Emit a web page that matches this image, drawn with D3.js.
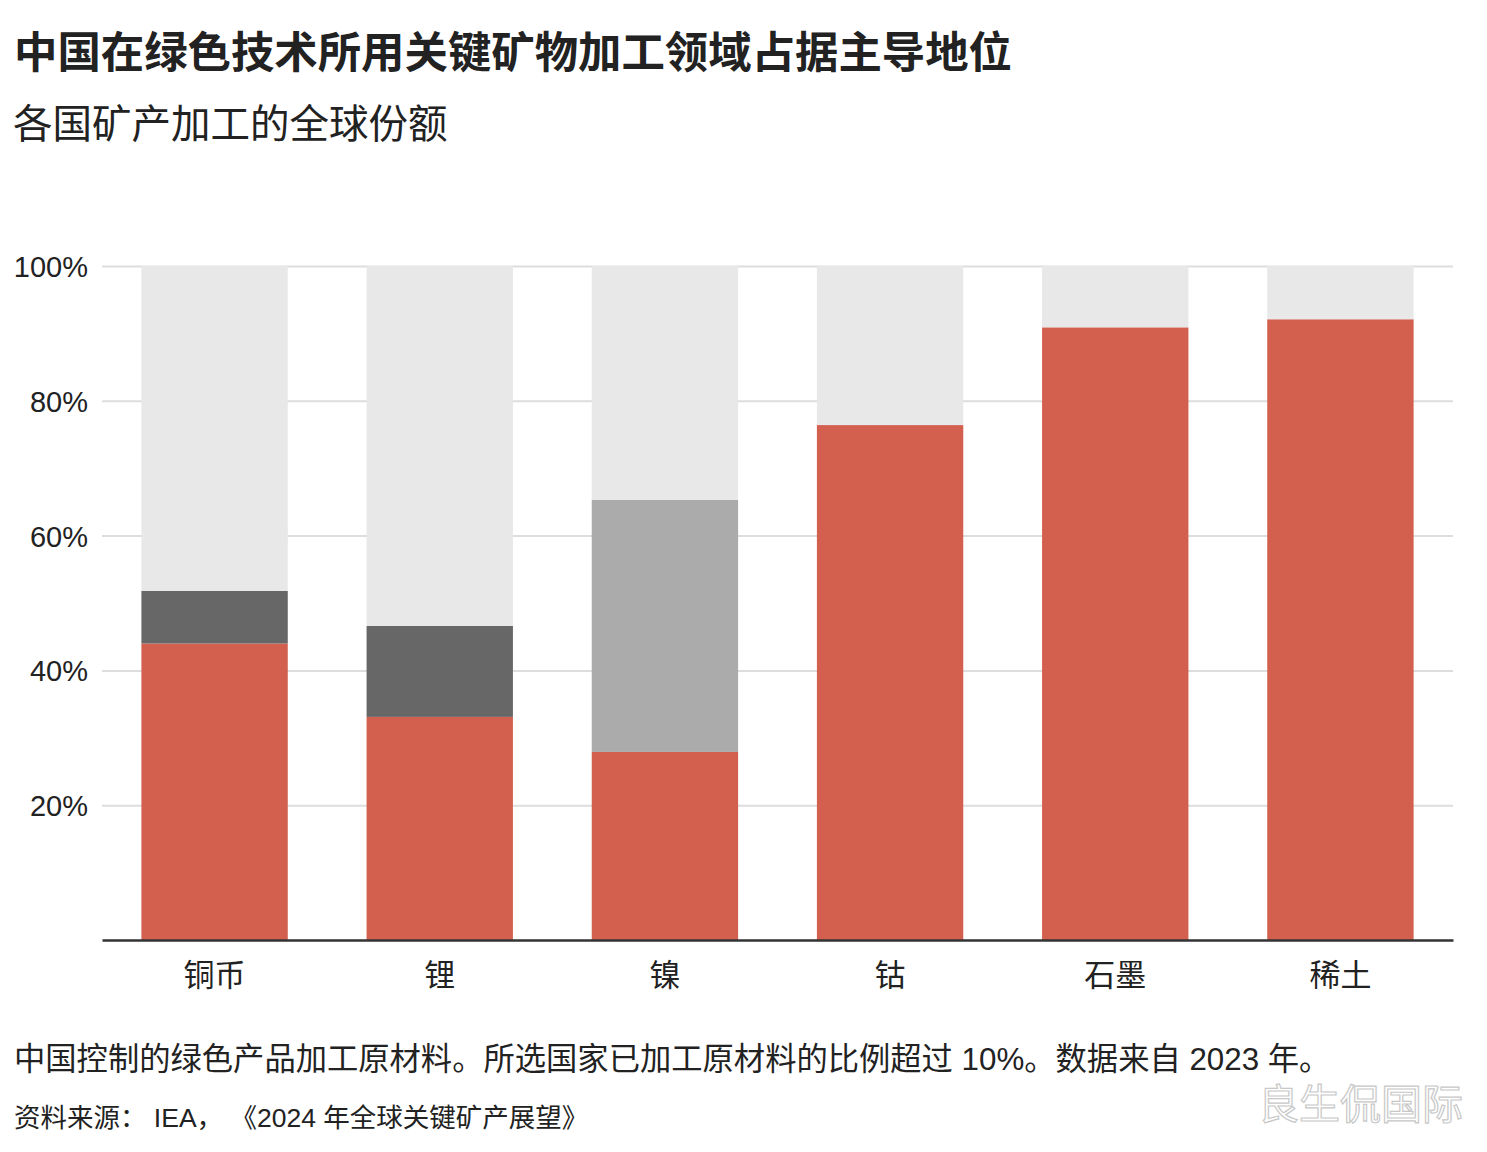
<!DOCTYPE html>
<html>
<head>
<meta charset="utf-8">
<script src="https://cdn.jsdelivr.net/npm/d3@7"></script>
<style>
  body { margin: 0; background: #fff; }
  text { font-family: "Liberation Sans", "Noto Sans CJK SC", sans-serif; }
</style>
</head>
<body>
<div id="chart"></div>
<script>
'use strict';

// data (percent of global processing)
var minerals = ["铜币", "锂", "镍", "钴", "石墨", "稀土"];
var chinaShare = [44, 33.1, 27.9, 76.4, 90.9, 92.1];
var darkShare = [7.8, 13.5, 0, 0, 0, 0];
var lightShare = [0, 0, 37.4, 0, 0, 0];
var yTicks = [20, 40, 60, 80, 100];

var colors = {china: "#d35f4f", dark: "#676767", light: "#ababab", rest: "#e8e8e8"};

var W = 1487, H = 1152;
var margin = {top: 266, right: 34, bottom: 212, left: 102},
    width = W - margin.left - margin.right,
    height = H - margin.top - margin.bottom;

var svg = d3.select("#chart")
  .append("svg")
    .attr("width", W)
    .attr("height", H);

// titles
svg.append("text")
  .attr("x", 14).attr("y", 68)
  .attr("font-size", 43.4).attr("font-weight", "bold").attr("fill", "#222")
  .text("中国在绿色技术所用关键矿物加工领域占据主导地位");
svg.append("text")
  .attr("x", 13).attr("y", 138)
  .attr("font-size", 39.5).attr("fill", "#222")
  .text("各国矿产加工的全球份额");

var g = svg.append("g")
  .attr("transform", "translate(" + margin.left + "," + margin.top + ")");

var x = d3.scaleBand()
  .domain(minerals)
  .range([0, width])
  .paddingInner(0.35)
  .paddingOuter(0.175);

var y = d3.scaleLinear()
  .domain([0, 100])
  .range([height, 0]);

// gridlines + labels
var yAxis = g.append("g")
  .call(d3.axisLeft(y).tickValues(yTicks).tickSize(-width).tickFormat(function(d) { return d + "%"; }));
yAxis.select(".domain").remove();
yAxis.selectAll(".tick line").attr("stroke", "#dddddd").attr("stroke-width", 2);
yAxis.selectAll(".tick text")
  .attr("x", -14).attr("dy", "0.36em")
  .attr("font-size", 29).attr("fill", "#222")
  .style("font-family", "'Liberation Sans', sans-serif");

// stacked segments
var rows = minerals.map(function(m, i) {
  return {mineral: m, china: chinaShare[i], dark: darkShare[i], light: lightShare[i],
          rest: 100 - chinaShare[i] - darkShare[i] - lightShare[i]};
});
var stack = d3.stack().keys(["china", "dark", "light", "rest"]);
var series = stack(rows);

g.append("g")
  .selectAll("g")
  .data(series)
  .enter()
  .append("g")
    .attr("fill", function(s) { return colors[s.key]; })
  .selectAll("rect")
  .data(function(s) { return s; })
  .enter()
  .append("rect")
    .attr("x", function(d) { return x(d.data.mineral); })
    .attr("width", x.bandwidth())
    .attr("y", function(d) { return y(d[1]); })
    .attr("height", function(d) { return y(d[0]) - y(d[1]); });

// baseline axis
var xAxis = g.append("g")
  .attr("transform", "translate(0," + height + ")")
  .call(d3.axisBottom(x).tickSize(0));
xAxis.select(".domain").attr("stroke", "#333").attr("stroke-width", 2.5);
xAxis.selectAll(".tick text")
  .attr("dy", 0).attr("y", 46)
  .attr("font-size", 31).attr("fill", "#222")
  .style("font-family", "'Noto Sans CJK SC', sans-serif");

// footer
svg.append("text")
  .attr("x", 14).attr("y", 1070)
  .attr("font-size", 31.3).attr("fill", "#222")
  .text("中国控制的绿色产品加工原材料。所选国家已加工原材料的比例超过 10%。数据来自 2023 年。");
svg.append("text")
  .attr("x", 14).attr("y", 1127)
  .attr("font-size", 26.5).attr("fill", "#222")
  .text("资料来源： IEA，\u00a0《2024 年全球关键矿产展望》");

// watermark
svg.append("text")
  .attr("x", 1258).attr("y", 1119)
  .attr("font-size", 41).attr("fill", "#ffffff")
  .attr("stroke", "#c8c8c8").attr("stroke-width", 1.2)
  .style("font-family", "'Noto Sans CJK SC', sans-serif")
  .text("良生侃国际");
</script>
</body>
</html>
